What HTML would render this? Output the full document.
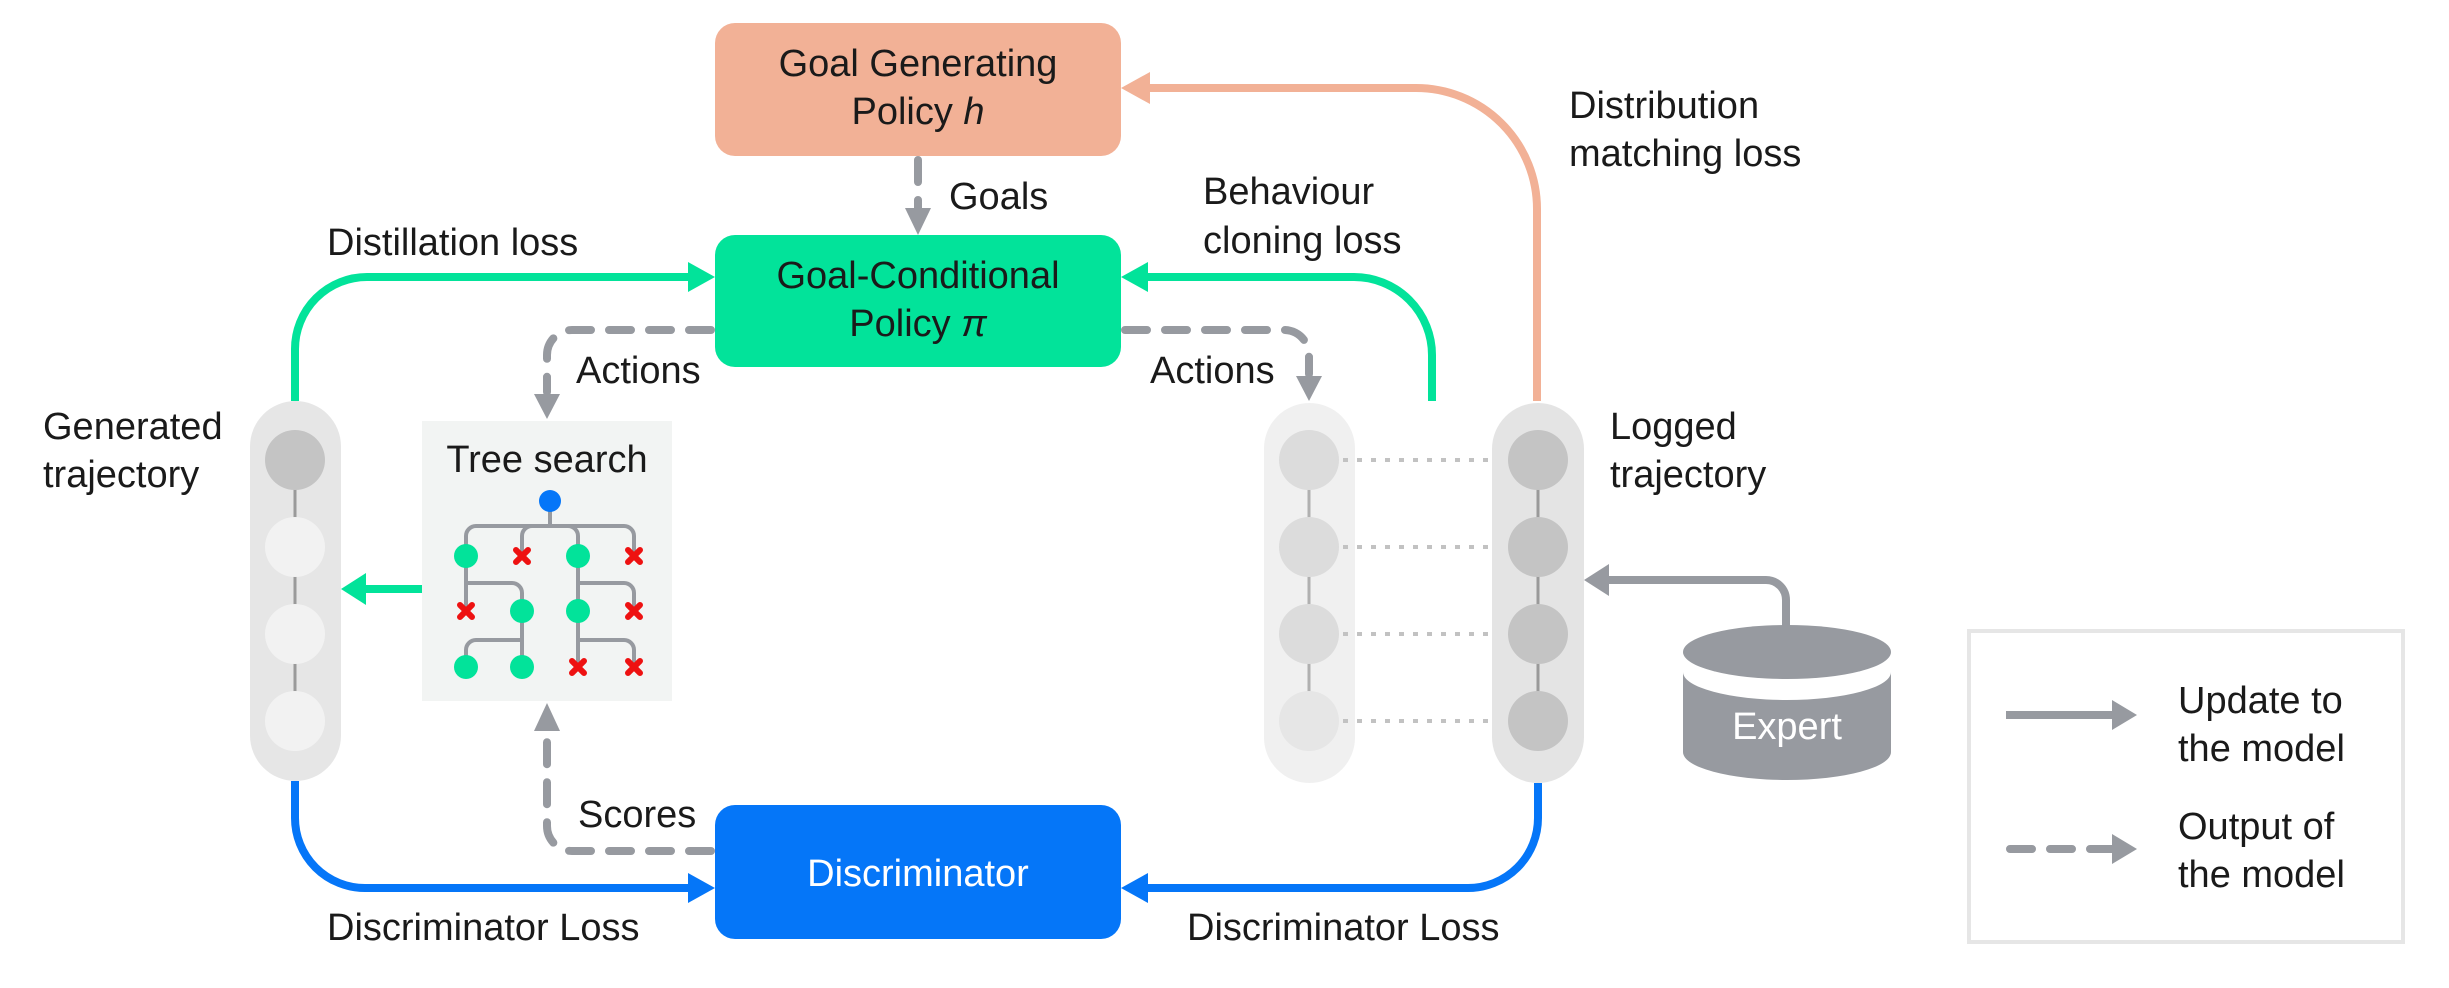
<!DOCTYPE html>
<html><head><meta charset="utf-8"><style>
html,body{margin:0;padding:0;background:#fff;}
svg{display:block;}
text{font-family:"Liberation Sans",sans-serif;font-size:38px;fill:#1a1a1a;}
</style></head><body>
<svg width="2449" height="988" viewBox="0 0 2449 988" xmlns="http://www.w3.org/2000/svg">

<!-- Boxes -->
<rect x="715" y="23" width="406" height="133" rx="20" fill="#f2b196"/>
<text x="918" y="76" text-anchor="middle">Goal Generating</text>
<text x="918" y="124" text-anchor="middle">Policy <tspan font-style="italic">h</tspan></text>

<rect x="715" y="235" width="406" height="132" rx="20" fill="#02e39a"/>
<text x="918" y="288" text-anchor="middle">Goal-Conditional</text>
<text x="918" y="336" text-anchor="middle">Policy <tspan font-style="italic">π</tspan></text>

<rect x="715" y="805" width="406" height="134" rx="20" fill="#0576f8"/>
<text x="918" y="886" text-anchor="middle" style="fill:#fff">Discriminator</text>

<!-- Salmon distribution line -->
<path d="M1148,88 H1416 A121,121 0 0 1 1537,209 V401" fill="none" stroke="#f2b196" stroke-width="8"/>
<path d="M1121,88 L1150,72 L1150,104 Z" fill="#f2b196"/>

<!-- Green lines -->
<path d="M295,401 V349 A72,72 0 0 1 367,277 H690" fill="none" stroke="#02e39a" stroke-width="8"/>
<path d="M715,277 L688,262 L688,292 Z" fill="#02e39a"/>
<path d="M1432,401 V355 A78,78 0 0 0 1354,277 H1146" fill="none" stroke="#02e39a" stroke-width="8"/>
<path d="M1121,277 L1148,262 L1148,292 Z" fill="#02e39a"/>
<path d="M422,589 H365" fill="none" stroke="#02e39a" stroke-width="8"/>
<path d="M341,589 L366,573 L366,605 Z" fill="#02e39a"/>

<!-- Blue lines -->
<path d="M295,781 V818 A70,70 0 0 0 365,888 H690" fill="none" stroke="#0576f8" stroke-width="8"/>
<path d="M715,888 L688,873 L688,903 Z" fill="#0576f8"/>
<path d="M1538,783 V818 A70,70 0 0 1 1468,888 H1146" fill="none" stroke="#0576f8" stroke-width="8"/>
<path d="M1121,888 L1148,873 L1148,903 Z" fill="#0576f8"/>

<!-- Gray dashed connectors -->
<g fill="none" stroke="#979aa0" stroke-width="8" stroke-linecap="round" stroke-dasharray="22 18">
<path d="M918,160 V208"/>
<path d="M711,330 H572 A25,25 0 0 0 547,355 V392"/>
<path d="M1125,330 H1284 A25,25 0 0 1 1309,355 V374"/>
<path d="M711,851 H572 A25,25 0 0 1 547,826 V735"/>
</g>
<g fill="#979aa0">
<path d="M918,235 L905,208 L931,208 Z"/>
<path d="M547,419 L534,394 L560,394 Z"/>
<path d="M1309,401 L1296,376 L1322,376 Z"/>
<path d="M547,703 L534,731 L560,731 Z"/>
</g>

<text x="949" y="209">Goals</text>
<text x="576" y="383">Actions</text>
<text x="1150" y="383">Actions</text>
<text x="578" y="827">Scores</text>
<text x="327" y="255">Distillation loss</text>
<text x="327" y="940">Discriminator Loss</text>
<text x="1187" y="940">Discriminator Loss</text>
<text x="1203" y="204">Behaviour</text>
<text x="1203" y="253">cloning loss</text>
<text x="1569" y="118">Distribution</text>
<text x="1569" y="166">matching loss</text>
<text x="43" y="439">Generated</text>
<text x="43" y="487">trajectory</text>
<text x="1610" y="439">Logged</text>
<text x="1610" y="487">trajectory</text>

<!-- Generated trajectory pill -->
<rect x="250" y="401" width="91" height="380" rx="45.5" fill="#e6e6e6"/>
<line x1="295" y1="460" x2="295" y2="721" stroke="#9a9a9a" stroke-width="3"/>
<circle cx="295" cy="460" r="30" fill="#c4c4c4"/>
<circle cx="295" cy="547" r="30" fill="#f2f2f2"/>
<circle cx="295" cy="634" r="30" fill="#f2f2f2"/>
<circle cx="295" cy="721" r="30" fill="#f2f2f2"/>

<!-- Tree search -->
<rect x="422" y="421" width="250" height="280" fill="#f2f4f3"/>
<text x="547" y="472" text-anchor="middle">Tree search</text>
<g fill="none" stroke="#979aa0" stroke-width="4">
<path d="M550,501 V526"/>
<path d="M466,556 V536 A10,10 0 0 1 476,526 H624 A10,10 0 0 1 634,536 V556"/>
<path d="M522,556 V536 A10,10 0 0 1 532,526 H568 A10,10 0 0 1 578,536 V556"/>
<path d="M466,556 V611"/>
<path d="M466,583 H512 A10,10 0 0 1 522,593 V611"/>
<path d="M578,556 V667"/>
<path d="M578,583 H624 A10,10 0 0 1 634,593 V611"/>
<path d="M522,611 V667"/>
<path d="M522,640 H476 A10,10 0 0 0 466,650 V667"/>
<path d="M578,640 H624 A10,10 0 0 1 634,650 V667"/>
</g>
<circle cx="550" cy="501" r="11" fill="#0576f8"/>
<g fill="#02e39a">
<circle cx="466" cy="556" r="12"/><circle cx="578" cy="556" r="12"/>
<circle cx="522" cy="611" r="12"/><circle cx="578" cy="611" r="12"/>
<circle cx="466" cy="667" r="12"/><circle cx="522" cy="667" r="12"/>
</g>
<g stroke="#ee1111" stroke-width="6" stroke-linecap="round">
<path d="M516,550 l12,12 M528,550 l-12,12"/>
<path d="M628,550 l12,12 M640,550 l-12,12"/>
<path d="M460,605 l12,12 M472,605 l-12,12"/>
<path d="M628,605 l12,12 M640,605 l-12,12"/>
<path d="M572,661 l12,12 M584,661 l-12,12"/>
<path d="M628,661 l12,12 M640,661 l-12,12"/>
</g>

<!-- Middle pill -->
<rect x="1264" y="403" width="91" height="380" rx="45.5" fill="#f0f0f0"/>
<line x1="1309" y1="460" x2="1309" y2="721" stroke="#b0b0b0" stroke-width="3"/>
<circle cx="1309" cy="460" r="30" fill="#dcdcdc"/>
<circle cx="1309" cy="547" r="30" fill="#dcdcdc"/>
<circle cx="1309" cy="634" r="30" fill="#dcdcdc"/>
<circle cx="1309" cy="721" r="30" fill="#e6e6e6"/>

<!-- dotted links -->
<g stroke="#c2c2c2" stroke-width="4" stroke-dasharray="5 9">
<line x1="1343" y1="460" x2="1492" y2="460"/>
<line x1="1343" y1="547" x2="1492" y2="547"/>
<line x1="1343" y1="634" x2="1492" y2="634"/>
<line x1="1343" y1="721" x2="1492" y2="721"/>
</g>

<!-- Logged pill -->
<rect x="1492" y="403" width="92" height="380" rx="46" fill="#e4e4e4"/>
<line x1="1538" y1="460" x2="1538" y2="721" stroke="#9a9a9a" stroke-width="3"/>
<circle cx="1538" cy="460" r="30" fill="#c4c4c4"/>
<circle cx="1538" cy="547" r="30" fill="#c4c4c4"/>
<circle cx="1538" cy="634" r="30" fill="#c4c4c4"/>
<circle cx="1538" cy="721" r="30" fill="#c4c4c4"/>

<!-- Expert -->
<path d="M1786,627 V600 A20,20 0 0 0 1766,580 H1606" fill="none" stroke="#979aa0" stroke-width="8"/>
<path d="M1584,580 L1609,564 L1609,596 Z" fill="#979aa0"/>
<path d="M1683,672 V752 A104,28 0 0 0 1891,752 V672 A104,28 0 0 1 1683,672 Z" fill="#979aa0"/>
<ellipse cx="1787" cy="652" rx="104" ry="27" fill="#979aa0"/>
<text x="1787" y="739" text-anchor="middle" style="fill:#fff">Expert</text>

<!-- Legend -->
<rect x="1969" y="631" width="434" height="311" fill="#fff" stroke="#e6e6e6" stroke-width="4"/>
<line x1="2006" y1="715" x2="2115" y2="715" stroke="#979aa0" stroke-width="8"/>
<path d="M2137,715 L2112,700 L2112,730 Z" fill="#979aa0"/>
<line x1="2010" y1="849" x2="2112" y2="849" stroke="#979aa0" stroke-width="8" stroke-linecap="round" stroke-dasharray="22 18"/>
<path d="M2137,849 L2112,834 L2112,864 Z" fill="#979aa0"/>
<text x="2178" y="713">Update to</text>
<text x="2178" y="761">the model</text>
<text x="2178" y="839">Output of</text>
<text x="2178" y="887">the model</text>
</svg>
</body></html>
